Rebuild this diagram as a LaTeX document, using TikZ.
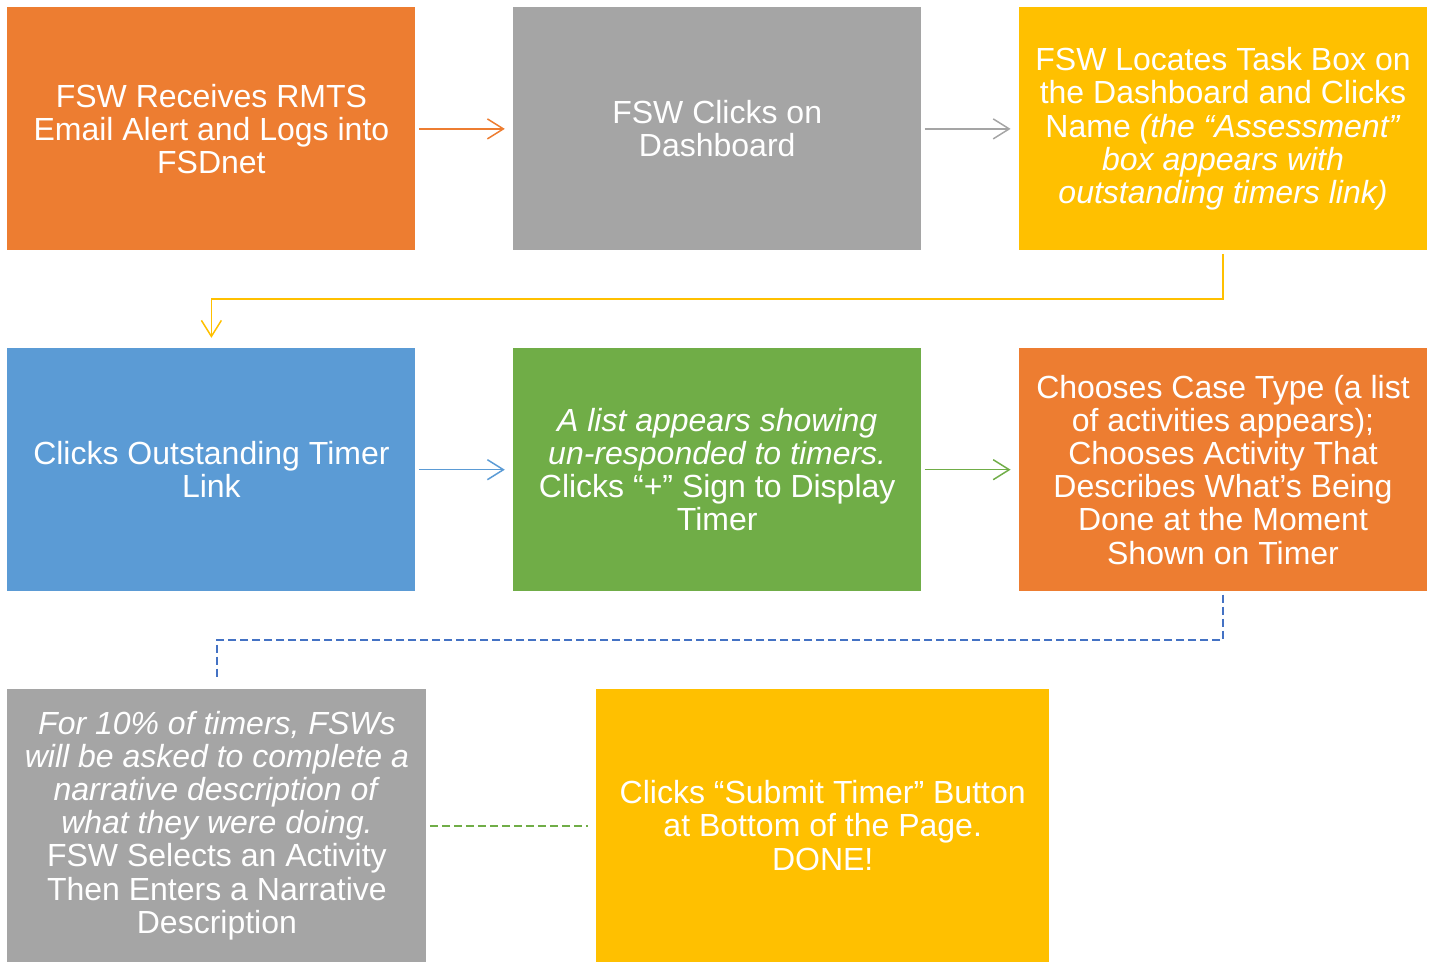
\documentclass[tikz,border=0pt]{standalone}
\usepackage{fontspec}
\setmainfont{Liberation Sans}
\usetikzlibrary{arrows.meta, positioning}

\definecolor{boxorange}{HTML}{ED7D31}
\definecolor{boxgray}{HTML}{A5A5A5}
\definecolor{boxgold}{HTML}{FFC000}
\definecolor{boxblue}{HTML}{5B9BD5}
\definecolor{boxgreen}{HTML}{70AD47}
\definecolor{linkblue}{HTML}{4472C4}

\begin{document}
\begin{tikzpicture}[
  x=0.5pt, y=-0.5pt,
  box/.style={minimum width=204pt, minimum height=121.5pt, align=center, text=white, inner sep=2pt, font=\fontsize{16}{16.6}\selectfont},
  bigbox/.style={box, minimum height=136.5pt},
  line/.style={-{Straight Barb[length=8pt,width=10pt]}, line width=0.75pt, shorten <=1.5pt, shorten >=4pt},
  link/.style={dash pattern=on 4pt off 2pt, line width=1pt, shorten <=1.5pt, shorten >=4.5pt},
  node distance=48.5pt
]
\useasboundingbox (0,0) rectangle (1434,962);

% first row
\node[box, fill=boxorange, anchor=north west] (receive) at (7,7)
  {FSW Receives RMTS\\Email Alert and Logs into\\FSDnet};
\node[box, fill=boxgray, right=of receive] (dashboard) {FSW Clicks on\\Dashboard};
\node[box, fill=boxgold, right=of dashboard] (locate)
  {FSW Locates Task Box on\\the Dashboard and Clicks\\Name \textit{(the “Assessment”}\\\textit{box appears with}\\\textit{outstanding timers link)}};

% second row
\node[box, fill=boxblue, below=of receive] (timerlink) {Clicks Outstanding Timer\\Link};
\node[box, fill=boxgreen, right=of timerlink] (plus)
  {\textit{A list appears showing}\\\textit{un-responded to timers.}\\Clicks “+” Sign to Display\\Timer};
\node[box, fill=boxorange, right=of plus] (casetype)
  {Chooses Case Type (a list\\of activities appears);\\Chooses Activity That\\Describes What's Being\\Done at the Moment\\Shown on Timer};

% third row
\node[bigbox, minimum width=209.5pt, fill=boxgray, below=of timerlink.south west, anchor=north west] (narrative)
  {\textit{For 10\% of timers, FSWs}\\\textit{will be asked to complete a}\\\textit{narrative description of}\\\textit{what they were doing.}\\FSW Selects an Activity\\Then Enters a Narrative\\Description};
\node[bigbox, minimum width=226.5pt, fill=boxgold, right=84.5pt of narrative.north east, anchor=north west] (done)
  {Clicks “Submit Timer” Button\\at Bottom of the Page.\\DONE!};

% connectors
\draw[line, boxorange] (receive) -- (dashboard);
\draw[line, boxgray] (dashboard) -- (locate);
\draw[line, boxgold, shorten >=5pt] (locate.south) -- ++(0,48) -| (timerlink.north);
\draw[line, boxblue] (timerlink) -- (plus);
\draw[line, boxgreen] (plus) -- (casetype);
\draw[link, linkblue] (casetype.south) -- ++(0,48) -| (narrative.north);
\draw[link, boxgreen, shorten >=4pt] (narrative) -- (done);
\end{tikzpicture}
\end{document}
